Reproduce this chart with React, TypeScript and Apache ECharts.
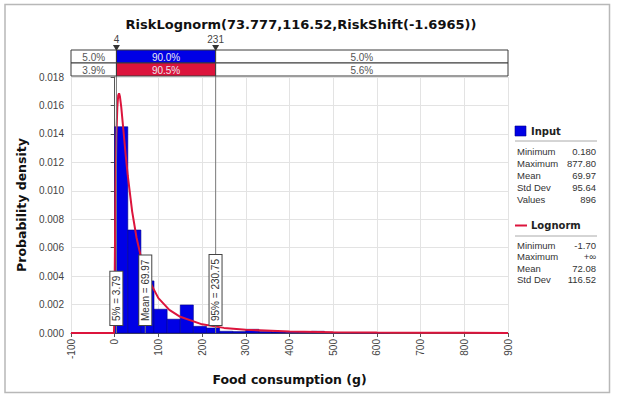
import React, { useEffect, useRef } from "react";
import * as echarts from "echarts";

// Histogram (bin start, density), bin width 30
const binStart = [0, 30, 60, 90, 120, 150, 180, 210, 240, 270, 300, 330, 360, 390, 420, 450, 480, 510, 540, 570, 600];
const binWidth = 30;
const binDensity = [0.0145, 0.00724, 0.00366, 0.00167, 0.00097, 0.00197, 0.00047, 0.00035, 0.00012, 0.0001, 0.00026, 0.0001, 0.00007, 0.00005, 0.00004, 0.00012, 0.00004, 0.00003, 0.00002, 0.00002, 0.00002];

// Fitted Lognorm curve
const curveX = [-100, -1.7, -1, 0, 1, 2, 4, 6, 8, 10, 12, 15, 20, 25, 30, 40, 50, 60, 75, 100, 125, 150, 200, 250, 300, 400, 500, 600, 700, 800, 900];
const curveY = [0, 0, 0.00074, 0.00397, 0.00737, 0.01019, 0.01394, 0.01588, 0.0167, 0.01685, 0.01662, 0.01588, 0.01424, 0.01256, 0.01104, 0.00854, 0.0067, 0.00534, 0.0039, 0.00245, 0.00163, 0.00114, 0.00061, 0.00036, 0.000225, 0.000103, 0.000053, 0.00003, 0.000018, 0.000012, 0.000008];

const titleText = "RiskLognorm(73.777,116.52,RiskShift(-1.6965))";
const xName = "Food consumption (g)";
const yName = "Probability density";

const delimiters = [4, 231];
const delimiterLabels = ["4", "231"];
const inputPct = ["5.0%", "90.0%", "5.0%"];
const fitPct = ["3.9%", "90.5%", "5.6%"];

const markerLabels = ["5% = 3.79", "Mean = 69.97", "95% = 230.75"];
const markerValues = [3.79, 69.97, 230.75];

const inputStatNames = ["Minimum", "Maximum", "Mean", "Std Dev", "Values"];
const inputStatValues = ["0.180", "877.80", "69.97", "95.64", "896"];
const fitStatNames = ["Minimum", "Maximum", "Mean", "Std Dev"];
const fitStatValues = ["-1.70", "+\u221e", "72.08", "116.52"];

const BLUE = "#0000e6";
const RED = "#dc143c";
const SMALL = "'Liberation Sans', Arial, sans-serif";
const BOLD = "'DejaVu Sans', Verdana, sans-serif";

export default function App() {
  const ref = useRef<HTMLDivElement>(null);
  useEffect(() => {
    if (!ref.current) return;
    const chart = echarts.init(ref.current, undefined, { renderer: "svg" });
    chart.setOption({
      animation: false,
      backgroundColor: "#ffffff",
      title: {
        text: titleText,
        left: 296,
        top: 13,
        textAlign: "center",
        textStyle: { fontFamily: BOLD, fontWeight: "bold", fontSize: 13, color: "#111" },
      },
      grid: { left: 71, right: 111, top: 77, bottom: 68, containLabel: false },
      xAxis: {
        type: "value",
        min: -100,
        max: 900,
        interval: 100,
        name: xName,
        nameLocation: "middle",
        nameGap: 40,
        nameTextStyle: { fontFamily: BOLD, fontWeight: "bold", fontSize: 12.5, color: "#111" },
        axisLine: { show: true, lineStyle: { color: "#555" } },
        axisTick: { show: true, length: 4, lineStyle: { color: "#555" } },
        axisLabel: { rotate: 90, margin: 6, fontFamily: SMALL, fontSize: 10, color: "#444" },
        splitLine: { show: true, lineStyle: { color: "#e3e3e3" } },
      },
      yAxis: {
        type: "value",
        min: 0,
        max: 0.018,
        interval: 0.002,
        name: yName,
        nameLocation: "middle",
        nameGap: 36,
        nameTextStyle: { fontFamily: BOLD, fontWeight: "bold", fontSize: 12.5, color: "#111" },
        axisLine: { show: true, lineStyle: { color: "#555" } },
        axisTick: { show: true, length: 4, lineStyle: { color: "#555" } },
        axisLabel: {
          margin: 7,
          fontFamily: SMALL,
          fontSize: 10,
          color: "#444",
          formatter: (v: number) => v.toFixed(3),
        },
        splitLine: { show: true, lineStyle: { color: "#e3e3e3" } },
      },
      series: [
        {
          type: "custom",
          name: "Input",
          z: 2,
          encode: { x: [0, 1], y: 2 },
          data: binStart.map((s, i) => [s, s + binWidth, binDensity[i]]),
          renderItem: (params: any, api: any) => {
            const p0 = api.coord([api.value(0), api.value(2)]);
            const p1 = api.coord([api.value(1), 0]);
            return {
              type: "rect",
              shape: { x: p0[0], y: p0[1], width: p1[0] - p0[0], height: p1[1] - p0[1] },
              style: { fill: BLUE, stroke: "#00008a", lineWidth: 0.6 },
            };
          },
        },
        {
          type: "line",
          name: "Lognorm",
          z: 3,
          showSymbol: false,
          smooth: false,
          data: curveX.map((x, i) => [x, curveY[i]]),
          lineStyle: { color: RED, width: 2 },
          itemStyle: { color: RED },
        },
      ],
    });

    const px = (v: number) => chart.convertToPixel({ xAxisIndex: 0 }, v) as number;
    const py = (v: number) => chart.convertToPixel({ yAxisIndex: 0 }, v) as number;
    const L = px(-100);
    const R = px(900);
    const B = py(0);
    const g: any[] = [];

    // outer frame
    g.push({
      type: "rect",
      z: 0,
      shape: { x: 5, y: 4.5, width: 604.5, height: 388 },
      style: { fill: "none", stroke: "#b8b8b8", lineWidth: 1.5 },
    });

    // delimiter bar
    const d0 = px(delimiters[0]);
    const d1 = px(delimiters[1]);
    const rowTop = [50, 63];
    const rowH = 13;
    const segs = [
      [L, d0],
      [d0, d1],
      [d1, R],
    ];
    [inputPct, fitPct].forEach((row, r) => {
      segs.forEach((sg, k) => {
        const mid = k === 1;
        g.push({
          type: "rect",
          z: 50,
          shape: { x: sg[0], y: rowTop[r], width: sg[1] - sg[0], height: rowH },
          style: { fill: mid ? (r === 0 ? BLUE : RED) : "#ffffff", stroke: "#3a3a3a", lineWidth: 1 },
        });
        g.push({
          type: "text",
          z: 51,
          x: (sg[0] + sg[1]) / 2,
          y: rowTop[r] + rowH / 2 + 0.5,
          style: {
            text: row[k],
            fontFamily: SMALL,
            fontSize: 10,
            fill: mid ? "#e8e8f0" : "#555",
            align: "center",
            verticalAlign: "middle",
          },
        });
      });
    });

    // delimiter vertical lines, triangles, labels
    delimiters.forEach((v, i) => {
      const x = px(v);
      g.push({
        type: "line",
        z: 40,
        shape: { x1: x, y1: 46, x2: x, y2: B },
        style: { stroke: "#7a7a7a", lineWidth: 1 },
      });
      g.push({
        type: "polygon",
        z: 52,
        shape: { points: [[x - 3.5, 45], [x + 3.5, 45], [x, 51]] },
        style: { fill: "#333" },
      });
      g.push({
        type: "text",
        z: 52,
        x,
        y: 39.5,
        style: {
          text: delimiterLabels[i],
          fontFamily: SMALL,
          fontSize: 10,
          fill: "#444",
          align: "center",
          verticalAlign: "middle",
        },
      });
    });

    // marker label boxes
    markerValues.forEach((v, i) => {
      const x = px(v);
      g.push({
        type: "line",
        z: 40,
        shape: { x1: x, y1: B - 9, x2: x, y2: B },
        style: { stroke: "#777", lineWidth: 1 },
      });
      g.push({
        type: "text",
        z: 60,
        x: x,
        y: B - 8,
        rotation: Math.PI / 2,
        style: {
          text: markerLabels[i],
          fontFamily: SMALL,
          fontSize: 10,
          fill: "#333",
          align: "left",
          verticalAlign: "middle",
          backgroundColor: "#ffffff",
          borderColor: "#444",
          borderWidth: 1,
          padding: [1, 4, 0, 4],
          lineHeight: 11,
        },
      });
    });

    // legend panel
    const lx = 515;
    const rx = 597;
    g.push({ type: "rect", z: 10, shape: { x: lx, y: 126, width: 11, height: 10 }, style: { fill: BLUE, stroke: "#00008a", lineWidth: 0.6 } });
    g.push({
      type: "text",
      z: 10,
      x: 531,
      y: 131,
      style: { text: "Input", fontFamily: BOLD, fontWeight: "bold", fontSize: 10, fill: "#222", verticalAlign: "middle" },
    });
    g.push({ type: "line", z: 10, shape: { x1: lx, y1: 141, x2: rx, y2: 141 }, style: { stroke: "#aaa", lineWidth: 1 } });
    inputStatNames.forEach((n, i) => {
      const y = 151 + i * 12;
      g.push({ type: "text", z: 10, x: 517, y, style: { text: n, fontFamily: SMALL, fontSize: 9.5, fill: "#333", verticalAlign: "middle" } });
      g.push({ type: "text", z: 10, x: 596, y, style: { text: inputStatValues[i], fontFamily: SMALL, fontSize: 9.5, fill: "#333", align: "right", verticalAlign: "middle" } });
    });
    g.push({ type: "line", z: 10, shape: { x1: lx, y1: 225.5, x2: lx + 12, y2: 225.5 }, style: { stroke: RED, lineWidth: 2 } });
    g.push({
      type: "text",
      z: 10,
      x: 531,
      y: 225.5,
      style: { text: "Lognorm", fontFamily: BOLD, fontWeight: "bold", fontSize: 10, fill: "#222", verticalAlign: "middle" },
    });
    g.push({ type: "line", z: 10, shape: { x1: lx, y1: 236, x2: rx, y2: 236 }, style: { stroke: "#aaa", lineWidth: 1 } });
    fitStatNames.forEach((n, i) => {
      const y = 245 + i * 11.6;
      g.push({ type: "text", z: 10, x: 517, y, style: { text: n, fontFamily: SMALL, fontSize: 9.5, fill: "#333", verticalAlign: "middle" } });
      g.push({ type: "text", z: 10, x: 596, y, style: { text: fitStatValues[i], fontFamily: SMALL, fontSize: 9.5, fill: "#333", align: "right", verticalAlign: "middle" } });
    });

    chart.setOption({ graphic: { elements: g } });

    return () => chart.dispose();
  }, []);
  return (
    <div
      ref={ref}
      style={{ position: "fixed", left: 0, top: 0, width: 619, height: 401, background: "#fff" }}
    />
  );
}
